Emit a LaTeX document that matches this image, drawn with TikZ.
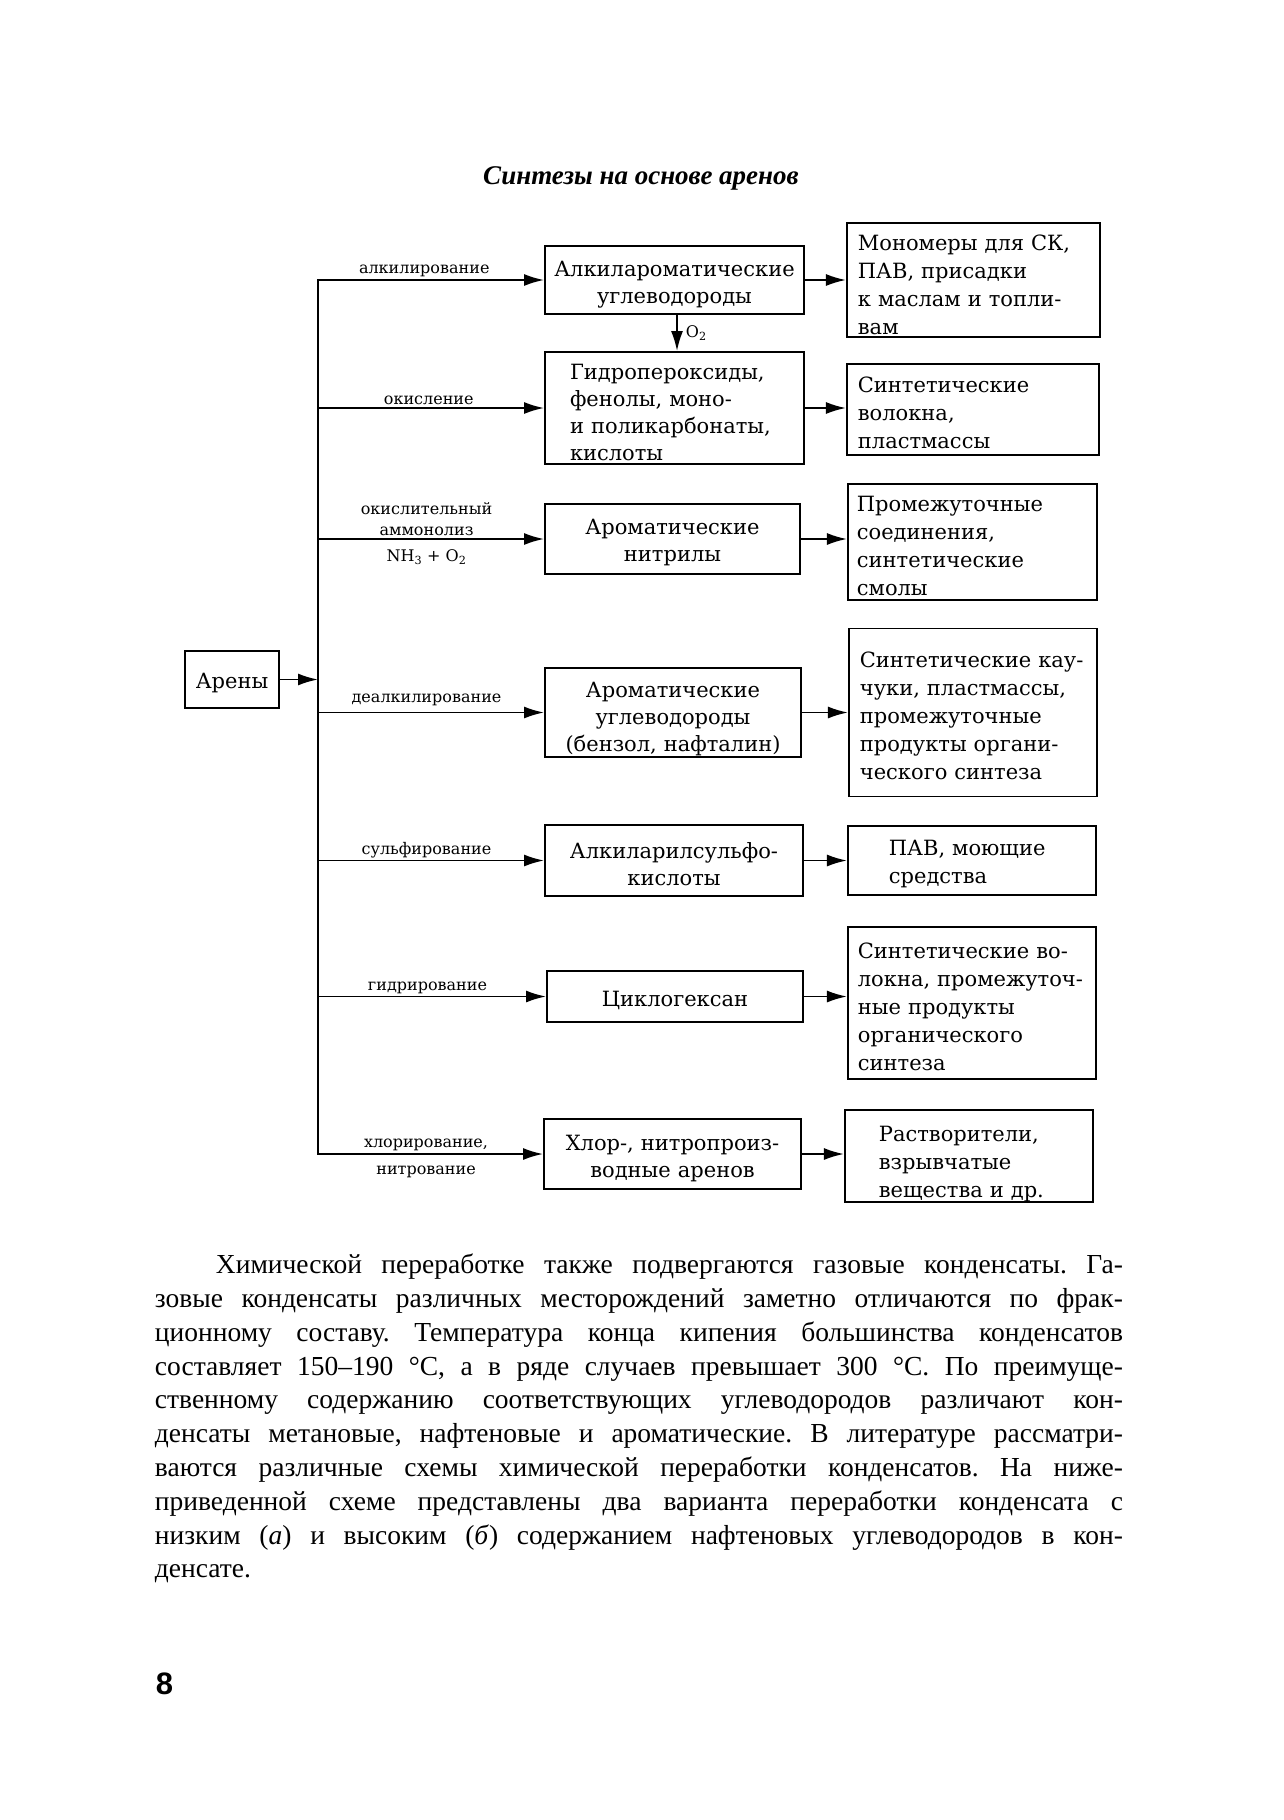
\documentclass[tikz,border=0pt]{standalone}
\usepackage{fontspec}
\setmainfont{Liberation Serif}
\newfontfamily\boxfont{DejaVu Serif}
\newfontfamily\numfont{Liberation Sans}
\usetikzlibrary{arrows.meta, positioning}

\begin{document}
\begin{tikzpicture}[x=1pt, y=-1pt, node distance=42pt, >={Latex[length=20pt,width=12pt]}, line width=1.9pt,
    textdrop/.style={execute at begin node={\rule{0pt}{#1}}},
    stage/.style={draw, inner sep=0pt, align=center, font=\boxfont\fontsize{21}{27}\selectfont, textdrop=23pt},
    product/.style={draw, inner sep=0pt, align=left, font=\boxfont\fontsize{21}{28}\selectfont, textdrop=23pt},
    route/.style={font=\boxfont\fontsize{16}{21.5}\selectfont, inner sep=2pt, align=center}]

    \path[fill=white] (0,0) rectangle (1283,1820);
    \useasboundingbox (0,0) rectangle (1283,1820);

    % Title
    \node (title) [anchor=base, inner sep=0pt, font=\bfseries\itshape\fontsize{27}{27}\selectfont] at (641,184) {Синтезы на основе аренов};

    % Nodes
    \node (arenes) [stage, minimum width=94pt, minimum height=57pt, textdrop=20pt] at (232,679.5) {Арены};
    \node (alkar) [stage, minimum width=259pt, minimum height=68pt, text width=250pt, textdrop=24.5pt] at (674.5,280) {Алкилароматические\\углеводороды};
    \node (hydro) [stage, align=left, minimum width=259pt, minimum height=112pt, text width=209pt, textdrop=24pt] at (674.5,408) {Гидропероксиды,\\фенолы, моно-\\и поликарбонаты,\\кислоты};
    \node (nitr) [stage, minimum width=255pt, minimum height=70pt, text width=246pt, textdrop=21.5pt] at (672.5,539) {Ароматические\\нитрилы};
    \node (benz) [stage, minimum width=256pt, minimum height=89pt, text width=248pt, textdrop=28pt] at (673,712.5) {Ароматические\\углеводороды\\(бензол, нафталин)};
    \node (sulfo) [stage, minimum width=258pt, minimum height=71pt, text width=250pt, textdrop=20pt] at (674,860.5) {Алкиларилсульфо-\\кислоты};
    \node (cyclo) [stage, minimum width=256pt, minimum height=51pt, text width=248pt, textdrop=18pt] at (675,996.5) {Циклогексан};
    \node (chlor) [stage, minimum width=257pt, minimum height=70pt, text width=248pt, textdrop=24.5pt] at (672.5,1154) {Хлор-, нитропроиз-\\водные аренов};

    \node (mono) [product, right=41pt of alkar, minimum width=253pt, minimum height=114pt, text width=231pt, textdrop=24.5pt] {Мономеры для СК,\\ПАВ, присадки\\к маслам и топли-\\вам};
    \node (fibre) [product, right=41pt of hydro, yshift=-1.5pt, minimum width=252pt, minimum height=91pt, text width=230pt, textdrop=22.5pt] {Синтетические\\волокна,\\пластмассы};
    \node (inter) [product, right=46pt of nitr, yshift=-3pt, minimum width=249pt, minimum height=116pt, text width=231pt, textdrop=23.5pt] {Промежуточные\\соединения,\\синтетические\\смолы};
    \node (rubber) [product, right=46pt of benz, minimum width=248pt, minimum height=168pt, text width=226pt, textdrop=22.5pt] {Синтетические~кау-\\чуки,~пластмассы,\\промежуточные\\продукты~органи-\\ческого синтеза};
    \node (surf) [product, right=43pt of sulfo, minimum width=248pt, minimum height=69pt, text width=166pt, textdrop=22.5pt] {ПАВ,~моющие\\средства};
    \node (fibres) [product, right=43pt of cyclo, yshift=-6.5pt, minimum width=248pt, minimum height=152pt, text width=228pt, textdrop=15pt] {Синтетические~во-\\локна,~промежуточ-\\ные продукты\\органического\\синтеза};
    \node (solv) [product, right=42pt of chlor, yshift=-2pt, minimum width=248pt, minimum height=92pt, text width=180pt, textdrop=31pt] {Растворители,\\взрывчатые\\вещества и~др.};

    \coordinate (trunk) at (318,0);

    % Links
    \draw[->] (arenes) -- (arenes -| trunk);
    \draw[line cap=rect] (alkar.west -| trunk) -- (chlor.west -| trunk);
    \draw[->] (alkar.west -| trunk) -- node[route, pos=0.47, above] {алкилирование} (alkar.west);
    \draw[->] (hydro.west -| trunk) -- node[route, pos=0.49, above] {окисление} (hydro.west);
    \draw[->] (nitr.west -| trunk) -- node[route, pos=0.48, above] {окислительный\\аммонолиз} node[route, pos=0.48, below, yshift=-8pt] {NH\textsubscript{3} + O\textsubscript{2}} (nitr.west);
    \draw[->] (benz.west -| trunk) -- node[route, pos=0.48, above, yshift=4pt] {деалкилирование} (benz.west);
    \draw[->] (sulfo.west -| trunk) -- node[route, pos=0.48, above] {сульфирование} (sulfo.west);
    \draw[->] (cyclo.west -| trunk) -- node[route, pos=0.48, above] {гидрирование} (cyclo.west);
    \draw[->] (chlor.west -| trunk) -- node[route, pos=0.48, above] {хлорирование,} node[route, pos=0.48, below, yshift=-9pt] {нитрование} (chlor.west);
    \draw[->] ([xshift=2.5pt]alkar.south) -- ([xshift=2.5pt]alkar.south |- hydro.north) node[route, midway, right, xshift=6pt] {O\textsubscript{2}};
    \foreach \from/\to in {alkar/mono, hydro/fibre, nitr/inter, benz/rubber, sulfo/surf, cyclo/fibres, chlor/solv}
        \draw[->] (\from.east) -- (\from.east -| \to.west);

    % Text
    \node (body) [anchor=north west, inner sep=0pt, text width=968pt, align=justify, font=\frenchspacing\fontsize{27.5}{33.8}\selectfont] at (154,1253) {\hspace*{61pt}Химической переработке также подвергаются газовые конденсаты. Га-\linebreak зовые конденсаты различных месторождений заметно отличаются по фрак-\linebreak ционному составу. Температура конца кипения большинства конденсатов\linebreak составляет 150–190~°C, а в ряде случаев превышает 300~°C. По преимуще-\linebreak ственному содержанию соответствующих углеводородов различают кон-\linebreak денсаты метановые, нафтеновые и ароматические. В литературе рассматри-\linebreak ваются различные схемы химической переработки конденсатов. На ниже-\linebreak приведенной схеме представлены два варианта переработки конденсата с\linebreak низким (\textit{а}) и высоким (\textit{б}) содержанием нафтеновых углеводородов в кон-\linebreak денсате.};
    \node (page) [anchor=base west, inner sep=0pt, font=\numfont\bfseries\fontsize{31}{31}\selectfont] at (155,1694) {8};
\end{tikzpicture}
\end{document}
